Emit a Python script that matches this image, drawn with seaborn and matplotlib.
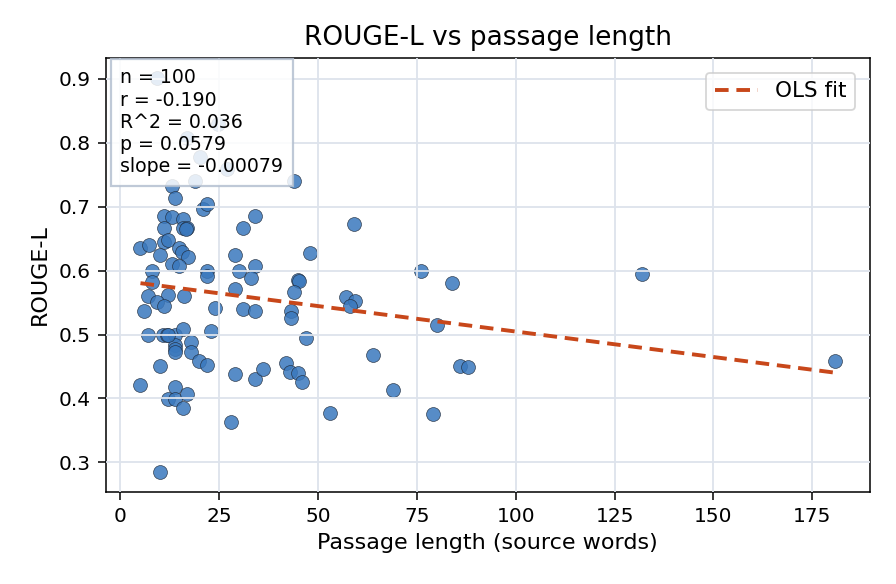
import numpy as np
import pandas as pd
import matplotlib
matplotlib.use("Agg")
import matplotlib.pyplot as plt
import seaborn as sns

passage_len = [
    9.3, 24.7, 16.9, 20.2, 27.0, 18.9, 43.9,
    13.1, 13.9, 21.0, 22.0, 34.1, 31.1, 11.1, 13.1, 15.9, 11.1, 15.9, 16.9,
    5.1, 7.3, 11.1, 12.1, 10.1, 14.9, 15.7, 17.2, 13.1, 14.9, 8.1, 8.1,
    22.0, 22.0, 29.0, 30.1, 34.1, 33.1, 44.9, 45.1, 43.9, 7.1, 12.1, 16.2,
    9.3, 11.1, 6.1, 24.0, 29.0, 31.1, 34.1, 43.2, 43.2,
    7.1, 10.9, 11.9, 13.9, 15.9, 23.0, 17.9, 13.9, 13.9, 13.9, 17.9, 19.9,
    22.0, 10.1, 29.0, 34.1, 36.1, 41.9, 42.9, 44.9, 46.0, 5.1, 13.9, 12.1,
    13.9, 16.9, 15.9, 28.0, 10.1,
    48.0, 59.1, 47.0, 57.1, 59.3, 58.1, 76.0, 83.8, 80.1, 63.9, 68.9, 53.0,
    79.0, 85.9, 87.9, 131.8, 180.8,
    12.0, 16.5,
]
rouge_l = [
    0.902, 0.830, 0.808, 0.777, 0.759, 0.740, 0.740,
    0.733, 0.714, 0.697, 0.704, 0.685, 0.666, 0.685, 0.684, 0.680, 0.666, 0.666, 0.666,
    0.635, 0.640, 0.645, 0.648, 0.624, 0.635, 0.629, 0.621, 0.611, 0.608, 0.599, 0.582,
    0.599, 0.591, 0.624, 0.600, 0.608, 0.588, 0.586, 0.584, 0.566, 0.561, 0.562, 0.561,
    0.551, 0.544, 0.537, 0.542, 0.572, 0.540, 0.537, 0.537, 0.526,
    0.500, 0.500, 0.500, 0.500, 0.509, 0.506, 0.489, 0.484, 0.477, 0.473, 0.473, 0.459,
    0.452, 0.451, 0.438, 0.430, 0.446, 0.455, 0.441, 0.440, 0.426, 0.421, 0.418, 0.399,
    0.399, 0.407, 0.385, 0.363, 0.285,
    0.627, 0.673, 0.495, 0.559, 0.553, 0.544, 0.599, 0.580, 0.515, 0.468, 0.414, 0.377,
    0.375, 0.451, 0.449, 0.594, 0.459,
    0.500, 0.665,
]

stats_lines = ["n = 100", "r = -0.190", "R^2 = 0.036", "p = 0.0579", "slope = -0.00079"]

df = pd.DataFrame({"len": passage_len, "rouge": rouge_l})

sns.set_style("white")
plt.rcParams["font.family"] = ["DejaVu Sans"]
plt.rcParams.update({
    "text.color": "black", "axes.labelcolor": "black",
    "xtick.color": "black", "ytick.color": "black",
})

fig = plt.figure(figsize=(8.96, 5.84), dpi=100)
ax = fig.add_axes([0.118, 0.158, 0.853, 0.743])

ax.grid(True, color="#dde3ec", linewidth=1.3, zorder=2.5)
ax.set_axisbelow(False)

sns.scatterplot(data=df, x="len", y="rouge", ax=ax, s=100, color="#3a78bd",
                alpha=0.85, edgecolor="#1f2a3a", linewidth=0.5, zorder=2)

slope, intercept = np.polyfit(df["len"], df["rouge"], 1)
xs = np.array([df["len"].min(), df["len"].max()])
ax.plot(xs, intercept + slope * xs, linestyle="--", color="#c8471a", linewidth=2.8,
        dashes=(3.5, 2), label="OLS fit", zorder=3)

for sp in ax.spines.values():
    sp.set_color("black")
    sp.set_linewidth(1.1)
ax.tick_params(axis="both", which="both", direction="out", length=5.5, width=1.1,
               color="black", labelsize=14.5, bottom=True, left=True, pad=5.5)

ax.set_xticks([0, 25, 50, 75, 100, 125, 150, 175])
ax.set_yticks([0.3, 0.4, 0.5, 0.6, 0.7, 0.8, 0.9])
ax.set_xlabel("Passage length (source words)", fontsize=16, labelpad=5)
ax.set_ylabel("ROUGE-L", fontsize=16, labelpad=6)
ax.set_title("ROUGE-L vs passage length", fontsize=19, pad=9)

leg = ax.legend(loc="upper right", fontsize=15.5, frameon=True, fancybox=True,
                borderaxespad=0.7)
leg.get_frame().set_edgecolor("#cccccc")
leg.get_frame().set_linewidth(1.3)

ax.text(0.019, 0.976, "\n".join(stats_lines), transform=ax.transAxes, fontsize=13.6,
        va="top", ha="left", zorder=5, linespacing=1.22,
        bbox=dict(boxstyle="square,pad=0.5", facecolor="white", alpha=0.85,
                  edgecolor="#b4c0d0", linewidth=1.6))

fig.savefig("out.png", dpi=100)
